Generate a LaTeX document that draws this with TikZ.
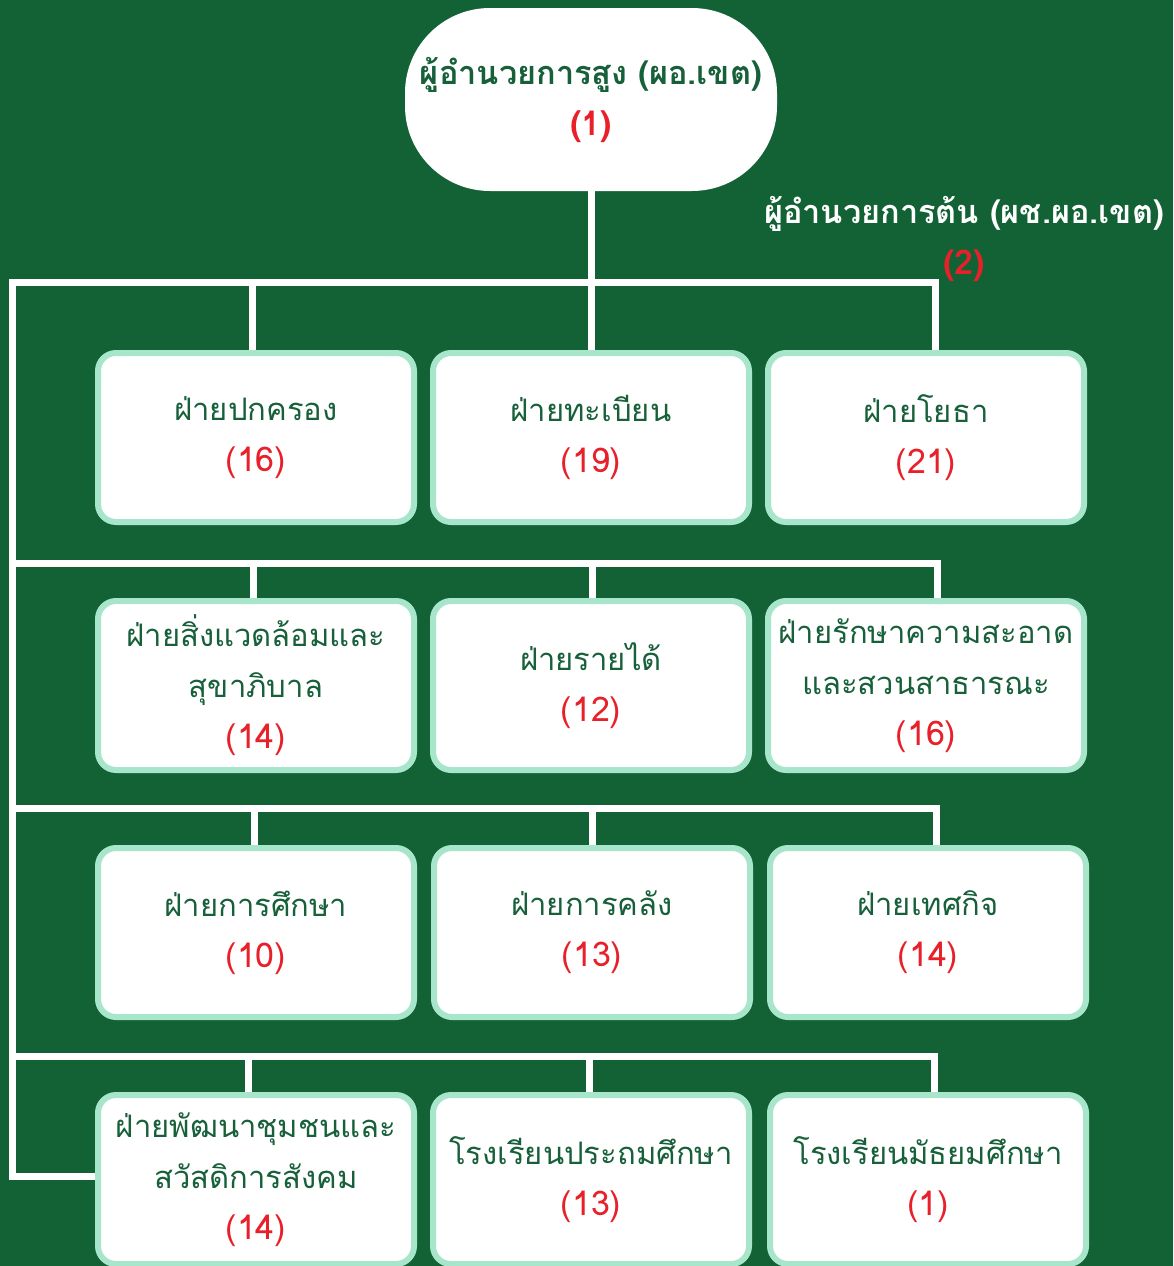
\documentclass[tikz,border=0pt]{standalone}
\usepackage{fontspec}
\newfontfamily\thaifont[Script=Thai]{Loma}
\definecolor{bg}{HTML}{136235}
\definecolor{tgreen}{HTML}{17603A}
\definecolor{nred}{HTML}{E8202A}
\definecolor{mint}{HTML}{A8E6CC}
\newcommand\numtxt[1]{{\fontsize{34}{51}\selectfont\textcolor{nred}{#1}}}
\begin{document}
\begin{tikzpicture}[x=1pt,y=-1pt,
  unit/.style={draw=mint, line width=6pt, fill=white, rounded corners=18pt,
    minimum width=316pt, minimum height=169pt, inner sep=0pt, align=center,
    font=\thaifont\fontsize{31}{51}\selectfont, text=tgreen},
  conn/.style={draw=white, line width=7pt, line join=miter}]
\fill[bg] (0,0) rectangle (1173,1266);
\useasboundingbox (0,0) rectangle (1173,1266);

% top
\node[fill=white, rounded corners=85pt, minimum width=372pt, minimum height=183pt,
  inner sep=0pt, align=center, font=\thaifont\bfseries\fontsize{32.5}{51}\selectfont, text=tgreen]
  (top) at (591,99.5) {ผู้อำนวยการสูง (ผอ.เขต)\\\numtxt{(1)}};

\node[align=center, text=white, font=\thaifont\bfseries\fontsize{32.5}{51}\selectfont]
  (dep) at (964,239) {ผู้อำนวยการต้น (ผช.ผอ.เขต)\\\numtxt{(2)}};

% bus coordinates
\coordinate (b1L) at (12,282);  \coordinate (b1R) at (935,282);
\coordinate (b2L) at (12,563);  \coordinate (b2R) at (937,563);
\coordinate (b3L) at (12,808);  \coordinate (b3R) at (936,808);
\coordinate (b4L) at (12,1056); \coordinate (b4R) at (934,1056);
\coordinate (b4E) at (12,1176);

% boxes
\node[unit] (r1c1) at (256,437.5) {ฝ่ายปกครอง\\\numtxt{(16)}};
\node[unit] (r1c2) at (591,437.5) {ฝ่ายทะเบียน\\\numtxt{(19)}};
\node[unit] (r1c3) at (926,437.5) {ฝ่ายโยธา\\\numtxt{(21)}};

\node[unit] (r2c1) at (256,685.5) {ฝ่ายสิ่งแวดล้อมและ\\สุขาภิบาล\\\numtxt{(14)}};
\node[unit] (r2c2) at (591,685.5) {ฝ่ายรายได้\\\numtxt{(12)}};
\node[unit] (r2c3) at (926,685.5) {ฝ่ายรักษาความสะอาด\\และสวนสาธารณะ\\\numtxt{(16)}};

\node[unit] (r3c1) at (256,932.5) {ฝ่ายการศึกษา\\\numtxt{(10)}};
\node[unit] (r3c2) at (592,932.5) {ฝ่ายการคลัง\\\numtxt{(13)}};
\node[unit] (r3c3) at (928,932.5) {ฝ่ายเทศกิจ\\\numtxt{(14)}};

\node[unit] (r4c1) at (256,1179.5) {ฝ่ายพัฒนาชุมชนและ\\สวัสดิการสังคม\\\numtxt{(14)}};
\node[unit] (r4c2) at (591,1179.5) {โรงเรียนประถมศึกษา\\\numtxt{(13)}};
\node[unit] (r4c3) at (928,1179.5) {โรงเรียนมัธยมศึกษา\\\numtxt{(1)}};

% connectors
\draw[conn] (top.south) -- (top.south |- b1L);
\draw[conn] (r4c1.west |- b4E) -- (b4E) -- (b1L) -- (b1R) -- (b1R |- r1c3.north);
\draw[conn] ([xshift=-4pt]r1c1.north |- b1L) -- ([xshift=-4pt]r1c1.north);
\draw[conn] (r1c2.north |- b1L) -- (r1c2.north);

\draw[conn] (b2L) -- (b2R) -- (b2R |- r2c3.north);
\draw[conn] ([xshift=-3pt]r2c1.north |- b2L) -- ([xshift=-3pt]r2c1.north);
\draw[conn] ([xshift=1pt]r2c2.north |- b2L) -- ([xshift=1pt]r2c2.north);

\draw[conn] (b3L) -- (b3R) -- (b3R |- r3c3.north);
\draw[conn] ([xshift=-2pt]r3c1.north |- b3L) -- ([xshift=-2pt]r3c1.north);
\draw[conn] (r3c2.north |- b3L) -- (r3c2.north);

\draw[conn] (b4L) -- (b4R) -- (b4R |- r4c3.north);
\draw[conn] ([xshift=-8pt]r4c1.north |- b4L) -- ([xshift=-8pt]r4c1.north);
\draw[conn] ([xshift=-2pt]r4c2.north |- b4L) -- ([xshift=-2pt]r4c2.north);
\end{tikzpicture}
\end{document}
